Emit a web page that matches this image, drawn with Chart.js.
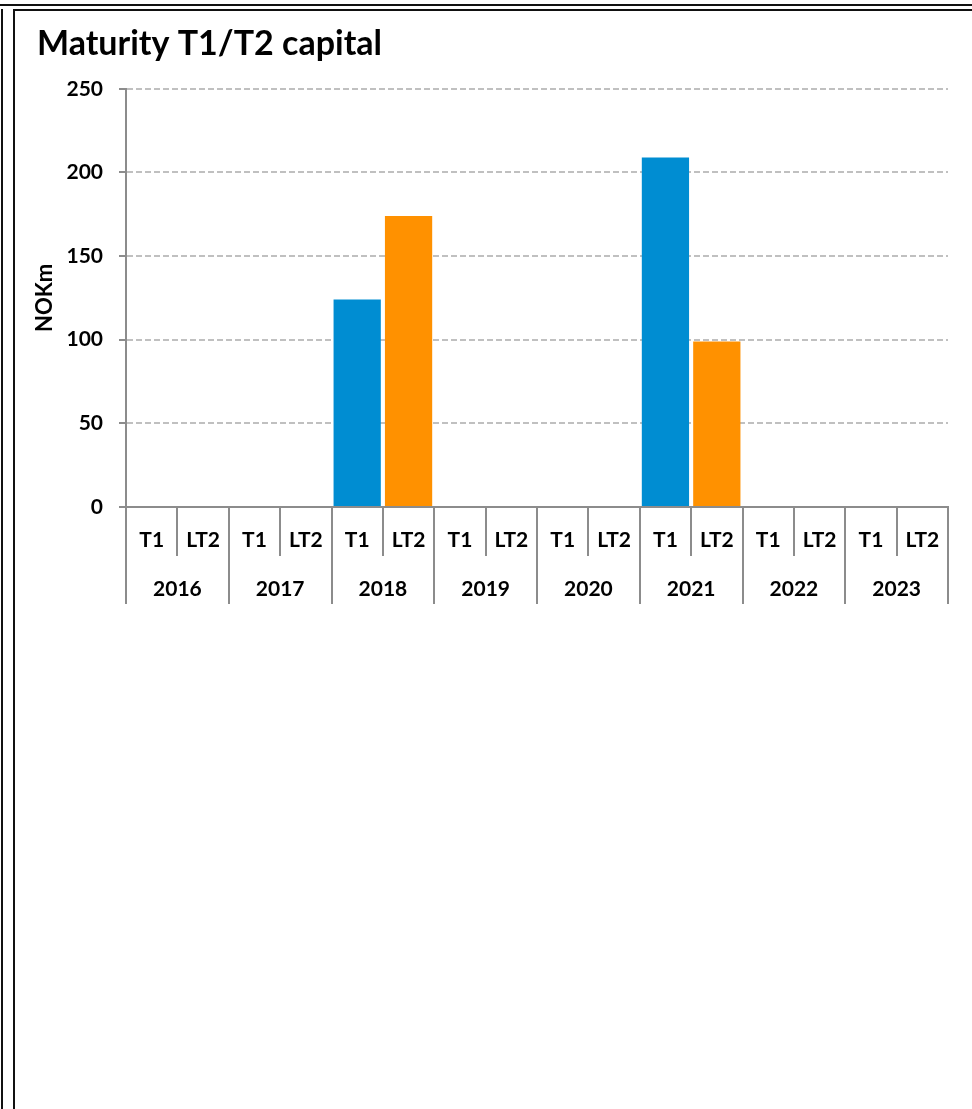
<!DOCTYPE html>
<html lang="en">
<head>
    <meta charset="UTF-8">
    <title>Maturity T1/T2 capital</title>
    <style>
        body { margin: 0; background: #fff; }
        .frame { position: absolute; background: #111; }
        #chartBox { position: absolute; left: 0; top: 0; width: 972px; height: 640px; }
    </style>
</head>
<body>
    <!-- moldura dupla -->
    <div class="frame" style="left:0; top:4px; width:972px; height:2px;"></div>
    <div class="frame" style="left:1px; top:9px; width:2px; height:1100px;"></div>
    <div class="frame" style="left:13px; top:9px; width:959px; height:2px;"></div>
    <div class="frame" style="left:13px; top:9px; width:2px; height:1100px;"></div>

    <div id="chartBox">
        <canvas id="maturityChart" width="972" height="640"></canvas>
    </div>

    <script src="https://cdn.jsdelivr.net/npm/chart.js"></script>
    <script>
        // dados
        const years = ['2016', '2017', '2018', '2019', '2020', '2021', '2022', '2023'];
        const types = ['T1', 'LT2'];
        const t1Values = [0, 0, 124, 0, 0, 209, 0, 0];
        const lt2Values = [0, 0, 174, 0, 0, 99, 0, 0];
        const yTicks = [0, 50, 100, 150, 200, 250];

        // rótulos de baixo: T1, LT2 por ano
        const labels = [];
        const t1Data = [];
        const lt2Data = [];
        years.forEach((y, i) => {
            labels.push(types[0]);
            labels.push(types[1]);
            t1Data.push(t1Values[i], null);
            lt2Data.push(null, lt2Values[i]);
        });

        const axisGray = '#8c8c8c';
        const fontFam = 'Lato, "Open Sans", sans-serif';
        const tickFont = { family: fontFam, size: 21, weight: 'bold' };

        const ctx = document.getElementById('maturityChart').getContext('2d');
        const chart = new Chart(ctx, {
            type: 'bar',
            data: {
                labels: labels,
                datasets: [
                    {
                        label: 'T1',
                        data: t1Data,
                        backgroundColor: '#008dd2',
                        borderWidth: 0,
                        grouped: false,
                        barPercentage: 0.92,
                        categoryPercentage: 1
                    },
                    {
                        label: 'LT2',
                        data: lt2Data,
                        backgroundColor: '#ff9100',
                        borderWidth: 0,
                        grouped: false,
                        barPercentage: 0.92,
                        categoryPercentage: 1
                    }
                ]
            },
            options: {
                responsive: false,
                maintainAspectRatio: false,
                animation: false,
                layout: {
                    padding: { left: 37, right: 24, top: 0, bottom: 36 }
                },
                plugins: {
                    legend: { display: false },
                    tooltip: { enabled: false },
                    title: {
                        display: true,
                        text: 'Maturity T1/T2 capital',
                        align: 'start',
                        color: '#000',
                        font: { family: fontFam, size: 34, weight: 'bold' },
                        padding: { top: 24, bottom: 24 }
                    }
                },
                scales: {
                    x: {
                        position: 'bottom',
                        grid: {
                            offset: true,
                            drawOnChartArea: false,
                            tickLength: 49,
                            color: axisGray,
                            lineWidth: 2
                        },
                        border: { color: axisGray, width: 2 },
                        ticks: { color: '#000', font: tickFont, padding: -28, maxRotation: 0, autoSkip: false },
                        afterFit: s => { s.height = 49; }
                    },
                    x2: {
                        type: 'category',
                        labels: years,
                        position: 'bottom',
                        grid: {
                            offset: true,
                            drawOnChartArea: false,
                            tickLength: 48,
                            color: axisGray,
                            lineWidth: 2
                        },
                        border: { display: false },
                        ticks: { color: '#000', font: tickFont, padding: -27, maxRotation: 0, autoSkip: false },
                        afterFit: s => { s.height = 48; }
                    },
                    y: {
                        min: yTicks[0],
                        max: yTicks[yTicks.length - 1],
                        afterBuildTicks: s => { s.ticks = yTicks.map(v => ({ value: v })); },
                        grid: {
                            color: c => (c.tick && c.tick.value === 0) ? 'rgba(0,0,0,0)' : '#c0c0c0',
                            lineWidth: 2,
                            tickLength: 7,
                            tickColor: axisGray,
                            tickWidth: 2,
                            tickBorderDash: []
                        },
                        border: { color: axisGray, width: 2, dash: [6, 3] },
                        ticks: { color: '#000', font: tickFont, padding: 16 },
                        title: {
                            display: true,
                            text: 'NOKm',
                            color: '#000',
                            font: { family: fontFam, size: 22, weight: 'bold' },
                            padding: { top: -5, bottom: 0 }
                        },
                        afterFit: s => { s.width = 89; }
                    }
                }
            }
        });
    </script>
</body>
</html>
